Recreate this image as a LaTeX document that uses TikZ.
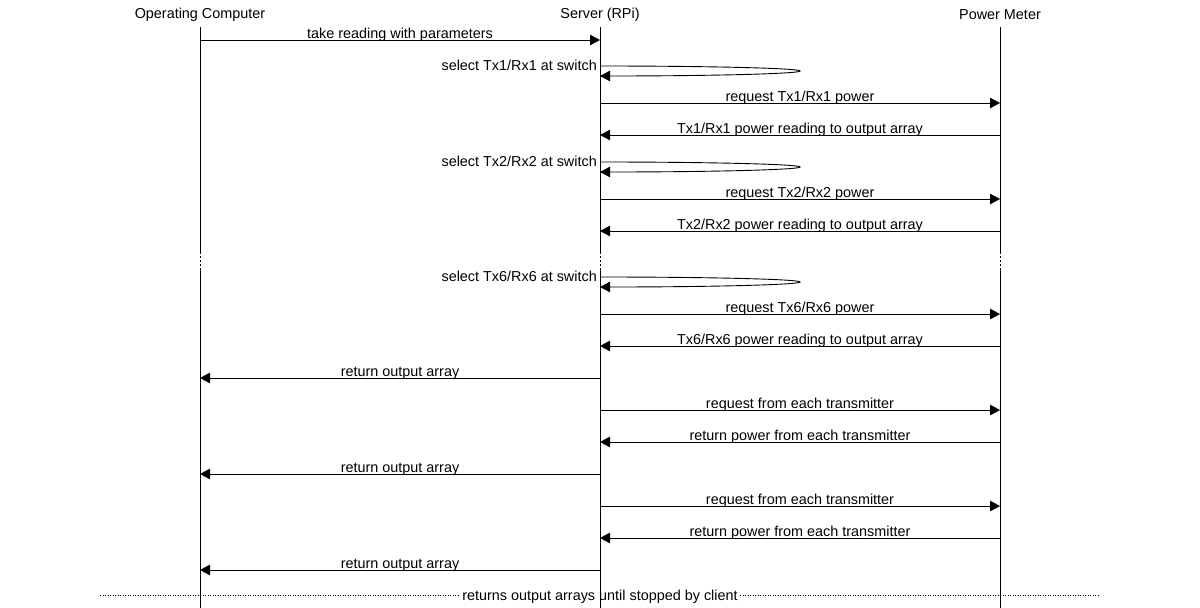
\documentclass[tikz,border=0pt]{standalone}
\usepackage{fontspec}
\setmainfont{Liberation Sans}
\usetikzlibrary{arrows.meta}
\begin{document}
\begin{tikzpicture}[x=1pt,y=-1pt,
  every node/.style={font=\fontsize{14.4}{17}\selectfont, inner sep=0pt},
  msg/.style={line width=1pt, -{Triangle[length=10pt,width=10.5pt]}},
  selfarc/.style={line width=0.9pt, -{Triangle[length=10pt,width=10.5pt]}},
  lbl/.style={anchor=base},
  life/.style={line width=1pt},
  gapline/.style={line width=1pt, dash pattern=on 2pt off 2pt},
  endline/.style={line width=0.8pt, dash pattern=on 1pt off 1.5pt}]
\useasboundingbox (0,0) rectangle (1200,608);
\fill[white] (0,0) rectangle (1200,608);

% headers
\node (oc)  at (200,14.5) {Operating Computer};
\node (srv) at (600,14.5) {Server (RPi)};
\node (pm)  at (1000,14.5) {Power Meter};

% final dotted line with label
\coordinate (el) at (100,595);
\coordinate (er) at (1100,595);
\draw[endline] (el) -- (er);
\node[fill=white, inner xsep=2pt, inner ysep=1pt, anchor=base] (endlbl) at (600,600.5) {returns output arrays until stopped by client};

% lifelines
\foreach \n in {oc,srv,pm}{
  \draw[life] (\n |- 0,27) -- (\n |- 0,252);
  \draw[gapline] (\n |- 0,252) -- (\n |- 0,268);
  \draw[life] (\n |- 0,268) -- (\n |- 0,608);
}

% messages
\draw[msg] (oc |- 0,40) -- (srv |- 0,40);
\node[lbl] at (400,38) {take reading with parameters};

\draw[selfarc] (srv |- 0,66) arc[start angle=-90, end angle=90, x radius=200, y radius=5];
\node[anchor=base east] at (597,70) {select Tx1/Rx1 at switch};

\draw[msg] (srv |- 0,103) -- (pm |- 0,103);
\node[lbl] at (800,101) {request Tx1/Rx1 power};

\draw[msg] (pm |- 0,135) -- (srv |- 0,135);
\node[lbl] at (800,133) {Tx1/Rx1 power reading to output array};

\draw[selfarc] (srv |- 0,162) arc[start angle=-90, end angle=90, x radius=200, y radius=5];
\node[anchor=base east] at (597,166) {select Tx2/Rx2 at switch};

\draw[msg] (srv |- 0,199) -- (pm |- 0,199);
\node[lbl] at (800,197) {request Tx2/Rx2 power};

\draw[msg] (pm |- 0,231) -- (srv |- 0,231);
\node[lbl] at (800,229) {Tx2/Rx2 power reading to output array};

\draw[selfarc] (srv |- 0,277) arc[start angle=-90, end angle=90, x radius=200, y radius=5];
\node[anchor=base east] at (597,281) {select Tx6/Rx6 at switch};

\draw[msg] (srv |- 0,314) -- (pm |- 0,314);
\node[lbl] at (800,312) {request Tx6/Rx6 power};

\draw[msg] (pm |- 0,346) -- (srv |- 0,346);
\node[lbl] at (800,344) {Tx6/Rx6 power reading to output array};

\draw[msg] (srv |- 0,378) -- (oc |- 0,378);
\node[lbl] at (400,376) {return output array};

\draw[msg] (srv |- 0,410) -- (pm |- 0,410);
\node[lbl] at (800,408) {request from each transmitter};

\draw[msg] (pm |- 0,442) -- (srv |- 0,442);
\node[lbl] at (800,440) {return power from each transmitter};

\draw[msg] (srv |- 0,474) -- (oc |- 0,474);
\node[lbl] at (400,472) {return output array};

\draw[msg] (srv |- 0,506) -- (pm |- 0,506);
\node[lbl] at (800,504) {request from each transmitter};

\draw[msg] (pm |- 0,538) -- (srv |- 0,538);
\node[lbl] at (800,536) {return power from each transmitter};

\draw[msg] (srv |- 0,570) -- (oc |- 0,570);
\node[lbl] at (400,568) {return output array};
\end{tikzpicture}
\end{document}
